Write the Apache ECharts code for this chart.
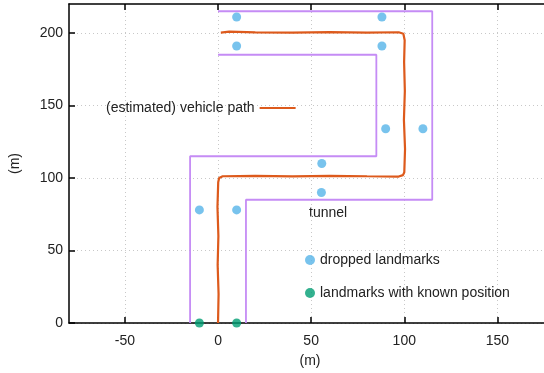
<!DOCTYPE html>
<html>
<head>
<meta charset="utf-8">
<script src="https://cdn.jsdelivr.net/npm/echarts@6/dist/echarts.min.js"></script>
<style>html,body{margin:0;padding:0;background:#fff}#c{width:544px;height:373px}</style>
</head>
<body>
<div id="c"></div>
<script>
// ---- data ----
const xTicks = [-50, 0, 50, 100, 150];
const yTicks = [0, 50, 100, 150, 200];
const pathX = [0, 0.3, -0.2, 0.2, -0.3, 0.1, 0.6, 2.5, 20, 40, 60, 80, 97, 99.3, 100, 100.4, 99.8, 100.3, 99.9, 100.2, 99.5, 97, 80, 60, 40, 20, 6, 1.5];
const pathY = [0, 20, 40, 60, 80, 97, 100, 101.2, 101.4, 101.1, 101.5, 101.2, 101, 102, 104, 120, 140, 160, 180, 195, 199.5, 200.5, 200.3, 200.6, 200.2, 200.4, 200.9, 200.3];
const tunnelAX = [-15, -15, 85, 85, 0];
const tunnelAY = [0, 115, 115, 185, 185];
const tunnelBX = [0, 115, 115, 15, 15];
const tunnelBY = [215, 215, 85, 85, 0];
const droppedX = [-10, 10, 10, 10, 88, 88, 90, 110, 55.7, 55.5];
const droppedY = [78, 78, 191, 211, 211, 191, 134, 134, 110, 90];
const knownX = [-10, 10];
const knownY = [0, 0];

const zip = (a, b) => a.map((v, i) => [v, b[i]]);
const FONT = 'Liberation Sans, Arial, sans-serif';
const txt = { fontFamily: FONT, fontSize: 14, color: '#222' };

const chart = echarts.init(document.getElementById('c'), null, { renderer: 'canvas' });
chart.setOption({
  animation: false,
  backgroundColor: '#fff',
  grid: { left: 67, right: 0, top: 4, bottom: 47 },
  legend: [
    { data: ['(estimated) vehicle path'], left: 106, top: 101, padding: 0, align: 'right', icon: 'rect', itemWidth: 36, itemHeight: 2, selectedMode: false, textStyle: txt },
    { data: ['dropped landmarks'], left: 305, top: 253, padding: 0, icon: 'circle', itemWidth: 10, itemHeight: 10, selectedMode: false, textStyle: txt },
    { data: ['landmarks with known position'], left: 305, top: 286, padding: 0, icon: 'circle', itemWidth: 10, itemHeight: 10, selectedMode: false, textStyle: txt }
  ],
  xAxis: [
    {
      type: 'value', min: -80, max: 175, position: 'bottom',
      name: '(m)', nameLocation: 'middle', nameGap: 31,
      nameTextStyle: Object.assign({}, txt, { padding: [0, 0, 0, 7] }),
      axisLine: { show: true, onZero: false, lineStyle: { color: '#000', width: 1.5 } },
      axisTick: { show: true, inside: true, length: 6, customValues: xTicks, lineStyle: { color: '#000', width: 1.5 } },
      axisLabel: Object.assign({}, txt, { margin: 11, customValues: xTicks }),
      splitLine: { show: true, lineStyle: { color: '#c8c8c8', type: [1, 3], width: 1 } }
    },
    {
      type: 'value', min: -80, max: 175, position: 'top',
      axisLine: { show: true, onZero: false, lineStyle: { color: '#000', width: 1.5 } },
      axisTick: { show: true, inside: true, length: 6, customValues: xTicks, lineStyle: { color: '#000', width: 1.5 } },
      axisLabel: { show: false },
      splitLine: { show: false }
    }
  ],
  yAxis: [
    {
      type: 'value', min: 0, max: 220,
      name: '(m)', nameLocation: 'middle', nameGap: 47, nameRotate: 90, nameTextStyle: txt,
      axisLine: { show: true, onZero: false, lineStyle: { color: '#000', width: 1.5 } },
      axisTick: { show: true, inside: true, length: 6, customValues: yTicks, lineStyle: { color: '#000', width: 1.5 } },
      axisLabel: Object.assign({}, txt, { margin: 6, padding: [3, 0, 0, 0], customValues: yTicks }),
      splitLine: { show: true, lineStyle: { color: '#c8c8c8', type: [1, 3], width: 1 } }
    }
  ],
  graphic: [
    { type: 'text', left: 309, top: 206, style: { text: 'tunnel', font: '14px ' + FONT, fill: '#222' } }
  ],
  series: [
    { name: 'tunnelA', type: 'line', data: zip(tunnelAX, tunnelAY), symbol: 'none', lineStyle: { color: '#c58cf5', width: 1.8 }, z: 2 },
    { name: 'tunnelB', type: 'line', data: zip(tunnelBX, tunnelBY), symbol: 'none', lineStyle: { color: '#c58cf5', width: 1.8 }, z: 2 },
    { name: '(estimated) vehicle path', type: 'line', data: zip(pathX, pathY), symbol: 'none', itemStyle: { color: '#dd5a1c' }, lineStyle: { color: '#dd5a1c', width: 2.2 }, z: 3 },
    { name: 'dropped landmarks', type: 'scatter', data: zip(droppedX, droppedY), symbol: 'circle', symbolSize: 9, itemStyle: { color: '#56b4e9' }, z: 4 },
    { name: 'landmarks with known position', type: 'scatter', data: zip(knownX, knownY), symbol: 'circle', symbolSize: 9, itemStyle: { color: '#009e73' }, z: 4 }
  ]
});
</script>
</body>
</html>
